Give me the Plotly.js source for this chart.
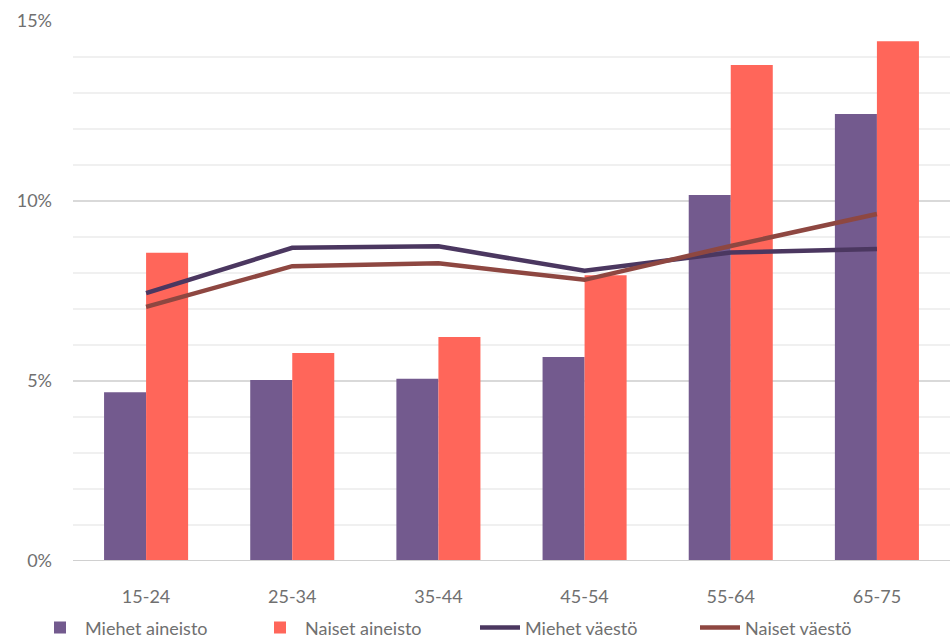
<!DOCTYPE html>
<html>
<head>
<meta charset="utf-8">
<script src="https://cdn.plot.ly/plotly-3.0.1.min.js"></script>
<style>html,body{margin:0;padding:0;background:#fff;}#chart{width:950px;height:638px;}</style>
</head>
<body>
<div id="chart"></div>
<script>
var categories = ["15-24", "25-34", "35-44", "45-54", "55-64", "65-75"];
var miehetAineisto = [4.69, 5.03, 5.06, 5.67, 10.17, 12.42];
var naisetAineisto = [8.56, 5.78, 6.22, 7.94, 13.78, 14.44];
var miehetVaesto = [7.44, 8.70, 8.74, 8.06, 8.57, 8.67];
var naisetVaesto = [7.06, 8.19, 8.27, 7.81, 8.75, 9.64];
var seriesNames = ["Miehet aineisto", "Naiset aineisto", "Miehet väestö", "Naiset väestö"];
var yTickVals = [0, 5, 10, 15];
var yTickText = yTickVals.map(function (v) { return v + "%"; });

var font = "Lato, 'Open Sans', sans-serif";
var traces = [
  {type: "bar", name: seriesNames[0], x: categories, y: miehetAineisto, marker: {color: "#735a8e"}},
  {type: "bar", name: seriesNames[1], x: categories, y: naisetAineisto, marker: {color: "#ff665a"}},
  {type: "scatter", mode: "lines", name: seriesNames[2], x: categories, y: miehetVaesto, line: {color: "#4b3760", width: 4.5}},
  {type: "scatter", mode: "lines", name: seriesNames[3], x: categories, y: naisetVaesto, line: {color: "#8e4741", width: 4.5}}
];
var layout = {
  width: 950, height: 638,
  margin: {l: 73, r: 0, t: 21, b: 77},
  paper_bgcolor: "#fff", plot_bgcolor: "#fff",
  barmode: "group", bargap: 0.425, bargroupgap: 0,
  font: {family: font, color: "#707070", size: 18},
  xaxis: {
    type: "category", showgrid: false, showline: false, zeroline: false,
    ticks: "", ticklabelstandoff: 23, tickfont: {size: 18, color: "#707070"}, fixedrange: true
  },
  yaxis: {
    range: [0, 15], tickmode: "array", tickvals: yTickVals, ticktext: yTickText,
    showgrid: true, gridcolor: "#d9d9d9", gridwidth: 1.5,
    zeroline: false, showline: false, ticks: "",
    ticklabelstandoff: 20, tickfont: {size: 18, color: "#707070"},
    minor: {dtick: 1, showgrid: true, gridcolor: "#f0f0f0", gridwidth: 1.5}
  },
  showlegend: true,
  legend: {
    orientation: "h", xref: "container", yref: "container",
    x: 0.5, xanchor: "center", y: 0.016, yanchor: "middle",
    font: {size: 18, color: "#707070"}, itemwidth: 40, traceorder: "normal",
    entrywidth: 165, entrywidthmode: "pixels"
  },
  shapes: [{type: "line", xref: "paper", yref: "y", x0: 0, x1: 1, y0: 0, y1: 0, line: {color: "#d0d0d0", width: 2}}]
};
Plotly.newPlot("chart", traces, layout, {displayModeBar: false, staticPlot: true});
</script>
</body>
</html>
